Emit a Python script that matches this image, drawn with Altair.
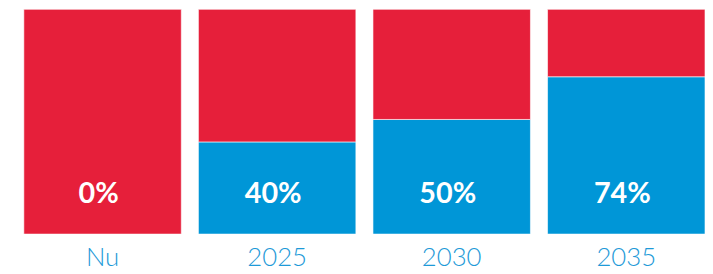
import altair as alt
import pandas as pd

categories = ["Nu", "2025", "2030", "2035"]
blue_share = [0, 41, 51, 70]
labels = ["0%", "40%", "50%", "74%"]

rows = []
for c, b in zip(categories, blue_share):
    rows.append({"cat": c, "part": "blue", "value": b, "ord": 0})
    rows.append({"cat": c, "part": "red", "value": 100 - b, "ord": 1})
df = pd.DataFrame(rows)
lab = pd.DataFrame({"cat": categories, "label": labels})

x = alt.X("cat:N", sort=categories, title=None,
          scale=alt.Scale(paddingInner=0.098, paddingOuter=0),
          axis=alt.Axis(domain=False, ticks=False, labelAngle=0,
                        labelFont="Lato", labelFontSize=26, labelFontWeight=300,
                        labelColor="#1E9AD8", labelPadding=11, labelBaseline="top"))

bars = alt.Chart(df).mark_bar(stroke="white", strokeWidth=1, strokeOpacity=0.6).encode(
    x=x,
    y=alt.Y("value:Q", stack="zero", axis=None, scale=alt.Scale(domain=[0, 100], nice=False)),
    color=alt.Color("part:N", legend=None,
                    scale=alt.Scale(domain=["blue", "red"], range=["#0096D7", "#E61F3A"])),
    order=alt.Order("ord:Q"),
)

text = alt.Chart(lab).mark_text(color="white", font="Lato", fontSize=29, fontWeight="bold",
                                baseline="alphabetic", dx=-4).encode(
    x=alt.X("cat:N", sort=categories),
    y=alt.value(196),
    text="label:N",
)

chart = (bars + text).properties(
    width=688, height=227,
    autosize=alt.AutoSizeParams(type="none"),
    padding={"left": 16, "top": 0, "right": 0, "bottom": 42},
).configure_view(stroke=None)

chart.save("out.html", embed_options={"renderer": "svg", "actions": False})
